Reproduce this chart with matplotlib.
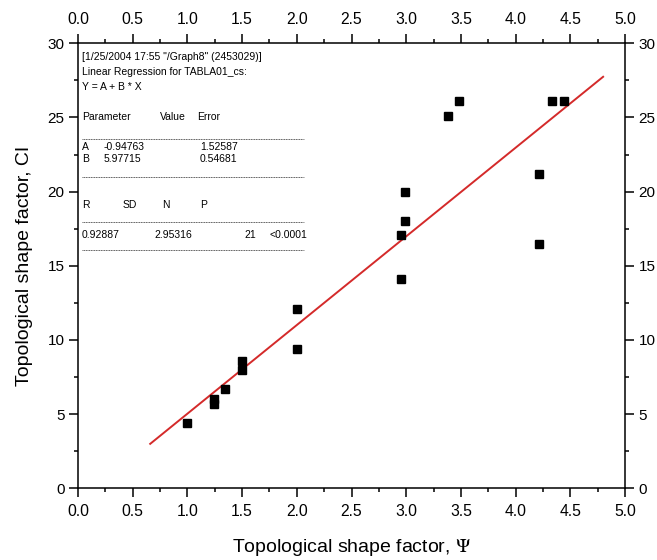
import numpy as np
import matplotlib
matplotlib.use("Agg")
import matplotlib.pyplot as plt

plt.rcParams['font.family'] = ['Liberation Sans', 'DejaVu Sans']
plt.rcParams['mathtext.fontset'] = 'stix'

# ── Data ──────────────────────────────────────────────────────────────────────
psi = [1.00, 1.24, 1.24, 1.34, 1.50, 1.50, 2.00, 2.00, 2.95, 2.95,
       2.99, 2.99, 3.38, 3.48, 4.21, 4.21, 4.33, 4.44]
ci  = [4.4, 6.0, 5.7, 6.7, 8.6, 8.0, 12.1, 9.4, 14.1, 17.1,
       18.0, 20.0, 25.1, 26.1, 21.2, 16.5, 26.1, 26.1]

A, B = -0.94763, 5.97715
fit_x = [0.66, 4.80]

xticks = [0.0, 0.5, 1.0, 1.5, 2.0, 2.5, 3.0, 3.5, 4.0, 4.5, 5.0]
yticks = [0, 5, 10, 15, 20, 25, 30]

# regression report text (Origin style)
header = ['[1/25/2004 17:55 "/Graph8" (2453029)]',
          'Linear Regression for TABLA01_cs:',
          'Y = A + B * X']
param_head = ('Parameter', 'Value', 'Error')
param_rows = [('A', '-0.94763', '1.52587'),
              ('B', '5.97715', '0.54681')]
stat_head = ('R', 'SD', 'N', 'P')
stat_vals = ('0.92887', '2.95316', '21', '<0.0001')

# ── Figure ────────────────────────────────────────────────────────────────────
fig = plt.figure(figsize=(6.57, 5.6), dpi=100)
ax = fig.add_axes([78 / 657, 1 - 488.3 / 560, 547 / 657, 445 / 560])

fit_y = [A + B * x for x in fit_x]
ax.plot(fit_x, fit_y, color='#d42a2a', lw=1.4, zorder=2)
ax.plot(psi, ci, 's', color='black', ms=6.3, zorder=3)

ax.set_xlim(0, 5)
ax.set_ylim(0, 30)
ax.set_xticks(xticks)
ax.set_xticklabels([f"{v:.1f}" for v in xticks])
ax.set_yticks(yticks)
ax.set_xticks(np.arange(0.25, 5, 0.5), minor=True)
ax.set_yticks(np.arange(2.5, 30, 5), minor=True)
ax.tick_params(which='both', direction='out', top=True, right=True,
               labeltop=True, labelright=True, width=1.1)
ax.tick_params(which='major', length=6.5)
ax.tick_params(which='minor', length=3.2)
ax.tick_params(axis='x', labelsize=11.3, pad=5)
ax.tick_params(axis='y', labelsize=11, pad=3.3)
for sp in ax.spines.values():
    sp.set_linewidth(1.1)

ax.set_xlabel('Topological shape factor, $\\Psi$', fontsize=14, labelpad=13)
ax.set_ylabel('Topological shape factor, CI', fontsize=14, labelpad=10)

# ── Regression report box ────────────────────────────────────────────────────
def px(x):   # pixel -> data helpers for the report layout
    return (x - 78.0) / 109.4

def py(y):
    return (488.3 - y) / 14.84

fs = 7.5
for line, y in zip(header, [57, 72, 87]):
    ax.text(px(82), py(y), line, fontsize=fs, va='center', ha='left')

for s, x in zip(param_head, [82, 160, 197]):
    ax.text(px(x), py(117), s, fontsize=fs, va='center', ha='left')
for row, y in zip(param_rows, [147, 159]):
    for s, x in zip(row, [82, 104, 200]):
        ax.text(px(x), py(y), s, fontsize=fs, va='center', ha='left')

for s, x in zip(stat_head, [82, 123, 162, 200]):
    ax.text(px(x), py(205), s, fontsize=fs, va='center', ha='left')
for s, x in zip(stat_vals, [82, 154, 244, 269]):
    ax.text(px(x), py(235), s, fontsize=fs, va='center', ha='left')

for y in [139, 177, 222, 250]:
    ax.plot([px(82), px(304)], [py(y), py(y)], color='#333333', lw=0.6,
            ls=(0, (1.2, 0.8)))

fig.savefig('out.png', dpi=100)
